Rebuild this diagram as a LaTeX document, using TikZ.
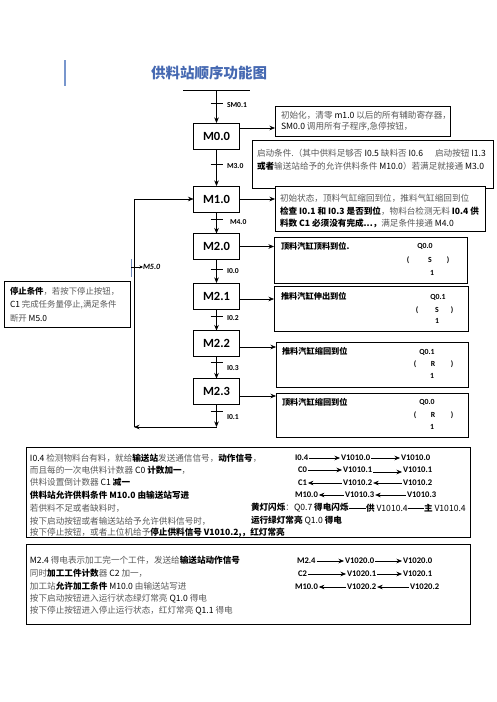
\documentclass[tikz,border=0pt]{standalone}
\usepackage{fontspec}
\setmainfont{Noto Sans CJK SC}[AutoFakeSlant=0.2]
\newfontfamily\lat{Carlito}
\usetikzlibrary{arrows.meta,calc}
\definecolor{titleblue}{RGB}{70,105,178}
\definecolor{barblue}{RGB}{120,150,205}
\definecolor{tickblue}{RGB}{110,135,185}
\newcommand\hb[1]{{\color{black}\bfseries #1}}
\newcommand\lc[1]{{\color{black}#1}}
\begin{document}
\begin{tikzpicture}[x=1pt,y=-1pt,
  every node/.style={inner sep=0pt, outer sep=0pt},
  arr/.style={-{Stealth[length=5.5pt,width=4.5pt]}, line width=0.6pt},
  ln/.style={line width=0.6pt},
  stepbox/.style={draw, line width=0.9pt, minimum width=46pt, minimum height=26pt, font=\lat\bfseries\fontsize{12.5}{13}\selectfont},
  descbox/.style={draw, line width=0.9pt, anchor=north west, fill=white},
  bigbox/.style={draw, line width=1pt, anchor=north west},
  txt/.style={anchor=west, font=\fontsize{8.6}{10}\selectfont, text=black!65},
  act/.style={anchor=west, font=\bfseries\fontsize{8.2}{10}\selectfont},
  lab/.style={anchor=west, font=\lat\bfseries\fontsize{7.6}{8}\selectfont},
  qc/.style={font=\lat\bfseries\fontsize{7.8}{8}\selectfont},
  code/.style={anchor=west, font=\lat\bfseries\fontsize{8.6}{9}\selectfont, inner xsep=1pt},
]
\useasboundingbox (0,0) rectangle (496,702);
\fill[white] (0,0) rectangle (496,702);

% title
\draw[line width=1.8pt, barblue] (65,60) -- (65,86);
\node[font=\bfseries\fontsize{14.5}{15}\selectfont, text=titleblue] (title) at (209,73) {供料站顺序功能图};

% steps
\node[stepbox] (m00) at (216.5,136) {M0.0};
\node[stepbox] (m10) at (216.5,199) {M1.0};
\node[stepbox] (m20) at (216.5,246.5) {M2.0};
\node[stepbox] (m21) at (216.5,296) {M2.1};
\node[stepbox] (m22) at (216.5,343.5) {M2.2};
\node[stepbox] (m23) at (216.5,391.5) {M2.3};

% initial line
\coordinate (topL) at (183,90);
\coordinate (topR) at (250,90);
\coordinate (topM) at (216.5,90);
\draw[ln] (topL) -- (topR);
\draw[arr] (topM) -- (m00);
\draw[arr] (m00) -- (m10);
\draw[arr] (m10) -- (m20);
\draw[arr] (m20) -- (m21);
\draw[arr] (m21) -- (m22);
\draw[arr] (m22) -- (m23);

% transitions
\draw[ln] (210.5,103) -- (222.5,103);  \node[lab] (tsm) at (227,105) {SM0.1};
\draw[ln] (210.5,164) -- (222.5,164);  \node[lab] (tm3) at (227,166) {M3.0};
\draw[ln] (210.5,219) -- (222.5,219);  \node[lab] (tm4) at (230,222) {M4.0};
\draw[ln] (210.5,269) -- (222.5,269);  \node[lab] (ti00) at (227,271) {I0.0};
\draw[ln] (210.5,316) -- (222.5,316);  \node[lab] (ti02) at (227,318) {I0.2};
\draw[ln] (210.5,362) -- (222.5,362);  \node[lab] (ti03) at (227,368) {I0.3};
\draw[ln] (210.5,411) -- (222.5,411);  \node[lab] (ti01) at (227,417) {I0.1};

% loop back
\coordinate (loopR) at (216.5,427);
\coordinate (loopL) at (134,427);
\draw[arr] (m23) -- (loopR);
\draw[arr] (loopR) -- (loopL);
\draw[arr] (loopL) -- (loopL |- m10) -- (m10.west);

% M5.0
\draw[line width=0.8pt, tickblue] (131,259) -- (131,277);
\coordinate (m5a) at (131,267);
\node[anchor=west, font=\lat\bfseries\itshape\fontsize{8}{8}\selectfont] (m5) at (143,267) {M5.0};
\draw[-{Stealth[length=3.5pt,width=3pt]}, line width=0.5pt] (m5a) -- (m5.west);

% description boxes
\node[descbox, minimum width=175pt, minimum height=30pt] (b1) at (275,106) {};
\node[descbox, minimum width=241pt, minimum height=48pt] (b2) at (252,140) {};
\node[descbox, minimum width=210pt, minimum height=45pt] (b3) at (275,186) {};
\node[descbox, minimum width=193pt, minimum height=46pt] (b4) at (274,237) {};
\node[descbox, minimum width=194pt, minimum height=45pt] (b5) at (274,286) {};
\node[descbox, minimum width=192pt, minimum height=45pt] (b6) at (276,342) {};
\node[descbox, minimum width=192pt, minimum height=44pt] (b7) at (276,393) {};
\node[descbox, minimum width=126pt, minimum height=46pt] (bs) at (4,281) {};

\draw[arr] (m00.east |- 0,128) -- (b1.west |- 0,128);
\draw[arr] (m10.east) -- (b3.west |- m10);
\draw[arr] (m20.east) -- (b4.west |- m20);
\draw[arr] (m21.east |- 0,299) -- (b5.west |- 0,299);
\draw[arr] (m22.east |- 0,347) -- (b6.west |- 0,347);
\draw[arr] (m23.east |- 0,396) -- (b7.west |- 0,396);

% box texts
\node[txt] (b1a) at (281,115) {初始化，清零 \lc{m1.0} 以后的所有辅助寄存器，};
\node[txt] (b1b) at (281,127) {\lc{SM0.0} 调用所有子程序,急停按钮，};

\node[txt] (b2a) at (257,153) {启动条件.（其中供料足够否 \lc{I0.5} 缺料否 \lc{I0.6}\hspace{12pt}启动按钮 \lc{I1.3}};
\node[txt] (b2b) at (257,166) {\hb{或者}输送站给予的允许供料条件 \lc{M10.0}）若满足就接通 \lc{M3.0}};

\node[txt] (b3a) at (280,198) {初始状态，顶料气缸缩回到位，推料气缸缩回到位};
\node[txt] (b3b) at (280,211) {\hb{检查 I0.1 和 I0.3 是否到位}，物料台检测无料 \hb{I0.4 供}};
\node[txt] (b3c) at (280,223) {\hb{料数 C1 必须没有完成...，}满足条件接通 \lc{M4.0}};

\node[act] (b4a) at (281,246) {顶料汽缸顶料到位.};
\node[qc] (b4q) at (425,246) {Q0.0};
\node[qc] (b4l) at (408,260) {(}; \node[qc] (b4s) at (430,260) {S}; \node[qc] (b4r) at (448,260) {)};
\node[qc] (b4n) at (432,273) {1};

\node[act] (b5a) at (281,296) {推料汽缸伸出到位};
\node[qc] (b5q) at (438,297) {Q0.1};
\node[qc] (b5l) at (417,310) {(}; \node[qc] (b5s) at (437,310) {S}; \node[qc] (b5r) at (452,310) {)};
\node[qc] (b5n) at (437,321) {1};

\node[act] (b6a) at (282,351) {推料汽缸缩回到位};
\node[qc] (b6q) at (427,352) {Q0.1};
\node[qc] (b6l) at (415,364) {(}; \node[qc] (b6s) at (433,364) {R}; \node[qc] (b6r) at (452,364) {)};
\node[qc] (b6n) at (432,376) {1};

\node[act] (b7a) at (282,402) {顶料汽缸缩回到位};
\node[qc] (b7q) at (427,402) {Q0.0};
\node[qc] (b7l) at (415,415) {(}; \node[qc] (b7s) at (433,415) {R}; \node[qc] (b7r) at (452,415) {)};
\node[qc] (b7n) at (432,427) {1};

\node[txt, font=\fontsize{8.4}{10}\selectfont] (bsa) at (10,291) {\hb{停止条件}，若按下停止按钮，};
\node[txt, font=\fontsize{8.4}{10}\selectfont] (bsb) at (10,305) {\lc{C1} 完成任务量停止,满足条件};
\node[txt, font=\fontsize{8.4}{10}\selectfont] (bsc) at (10,318) {断开 \lc{M5.0}};

% bottom box A
\node[bigbox, minimum width=444pt, minimum height=90pt] (boxA) at (26,447) {};
\node[txt] (a1) at (30,458) {\lc{I0.4} 检测物料台有料，就给\hb{输送站}发送通信信号，\hb{动作信号}，};
\node[txt] (a2) at (30,470) {而且每的一次电供料计数器 \lc{C0} \hb{计数加一}，};
\node[txt] (a3) at (30,482) {供料设置倒计数器 \lc{C1} \hb{减一}};
\node[txt] (a4) at (30,495) {\hb{供料站允许供料条件 M10.0 由输送站写进}};
\node[txt] (a5) at (30,508) {若供料不足或者缺料时，};
\node[txt] (a6) at (30,521) {按下启动按钮或者输送站给予允许供料信号时，};
\node[txt] (a7) at (30,533) {按下停止按钮，或者上位机给予\hb{停止供料信号 V1010.2,，红灯常亮}};

\node[code] (r1a) at (294,458) {I0.4};
\node[code] (r1b) at (340,458) {V1010.0};
\node[code] (r1c) at (400,458) {V1010.0};
\draw[arr] (r1a) -- (r1b); \draw[arr] (r1b) -- (r1c);
\node[code] (r2a) at (297,470) {C0};
\node[code] (r2b) at (342,470) {V1010.1};
\node[code] (r2c) at (402,470) {V1010.1};
\draw[arr] (r2a) -- (r2b); \draw[arr] (r2b.east |- 0,472) -- (r2c.west |- 0,472);
\node[code] (r3a) at (297,483) {C1};
\node[code] (r3b) at (342,483) {V1010.2};
\node[code] (r3c) at (402,483) {V1010.2};
\draw[arr] (r3b) -- (r3a); \draw[arr] (r3c) -- (r3b);
\node[code] (r4a) at (294,495) {M10.0};
\node[code] (r4b) at (344,495) {V1010.3};
\node[code] (r4c) at (406,495) {V1010.3};
\draw[arr] (r4b) -- (r4a); \draw[arr] (r4c) -- (r4b);
\node[txt] (r5a) at (251,508) {\hb{黄灯闪烁}：\lc{Q0.7} \hb{得电闪烁}};
\node[txt] (r5b) at (366,508) {\hb{供} \lc{V1010.4}};
\node[txt] (r5c) at (424,508) {\hb{主} \lc{V1010.4}};
\draw[ln] (r5a) -- (r5b); \draw[ln] (r5b) -- (r5c);
\node[txt] (r6a) at (251,521) {\hb{运行绿灯常亮} \lc{Q1.0} \hb{得电}};

% bottom box B
\node[bigbox, minimum width=444pt, minimum height=80pt] (boxB) at (26,544) {};
\node[txt] (c1) at (30,560) {\lc{M2.4} 得电表示加工完一个工件，发送给\hb{输送站动作信号}};
\node[txt] (c2) at (30,573) {同时\hb{加工工件计数}器 \lc{C2} 加一，};
\node[txt] (c3) at (30,586) {加工站\hb{允许加工条件} \lc{M10.0} 由输送站写进};
\node[txt] (c4) at (30,599) {按下启动按钮进入运行状态绿灯常亮 \lc{Q1.0} 得电};
\node[txt] (c5) at (30,611) {按下停止按钮进入停止运行状态，红灯常亮 \lc{Q1.1} 得电};

\node[code] (s1a) at (296,561) {M2.4};
\node[code] (s1b) at (344,561) {V1020.0};
\node[code] (s1c) at (402,561) {V1020.0};
\draw[arr] (s1a) -- (s1b); \draw[arr] (s1b) -- (s1c);
\node[code] (s2a) at (297,574) {C2};
\node[code] (s2b) at (346,574) {V1020.1};
\node[code] (s2c) at (402,574) {V1020.1};
\draw[arr] (s2a) -- (s2b); \draw[arr] (s2b) -- (s2c);
\node[code] (s3a) at (294,587) {M10.0};
\node[code] (s3b) at (346,587) {V1020.2};
\node[code] (s3c) at (409,587) {V1020.2};
\draw[arr] (s3b) -- (s3a); \draw[arr] (s3c) -- (s3b);
\end{tikzpicture}
\end{document}
